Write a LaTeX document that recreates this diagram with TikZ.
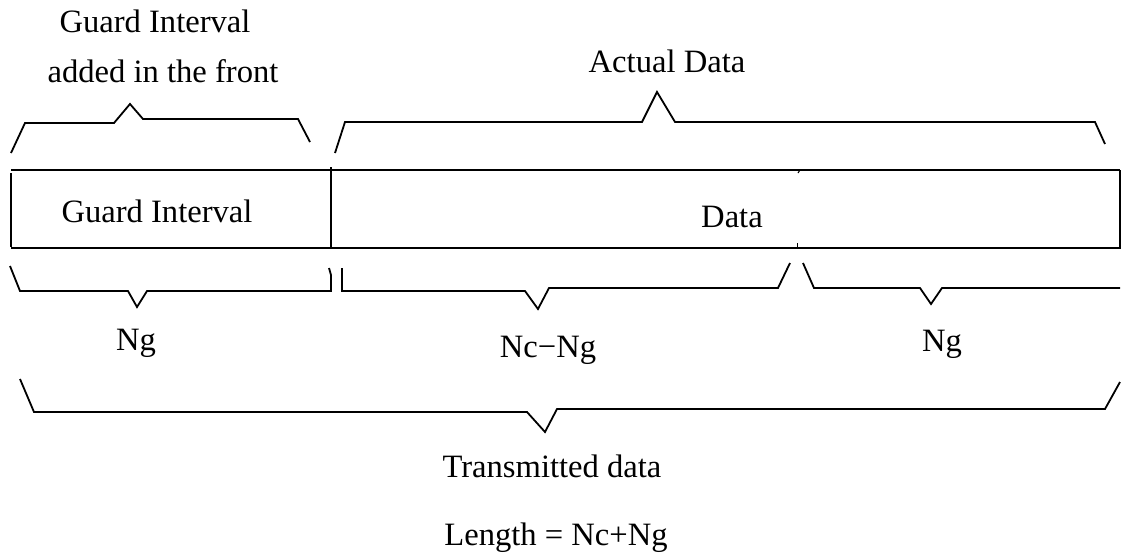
\documentclass[tikz,border=0pt]{standalone}
\usepackage{fontspec}
\setmainfont{Liberation Serif}
\begin{document}
\begin{tikzpicture}[x=0.5pt,y=-0.5pt,
  line/.style={line width=0.9pt,line join=miter},
  lbl/.style={anchor=base,inner sep=0pt,font=\fontsize{16.3}{19}\selectfont}]
\useasboundingbox (0,0) rectangle (1121,558);

% frame: guard interval followed by the data block
\draw[line] (11,170) -- (1120,170);
\draw[line] (11,248) -- (1120,248);
\draw[line] (11,173) -- (11,247);
\draw[line] (1120,170) -- (1120,249);
\draw[line] (331,167) -- (331,247);
\draw[line width=0.5pt] (800,170) -- (798,173);
\draw[line width=0.5pt] (797,243) -- (797,247);

% upper braces
\draw[line] (11,153) -- (25,123) -- (114,123) -- (130,104) -- (143,119) -- (298,119) -- (310,142);
\draw[line] (335,153) -- (345,122) -- (642,122) -- (657,92) -- (675,122) -- (1095,122) -- (1105,144);

% lower braces
\draw[line] (10,266) -- (20,291) -- (128,291) -- (137,307) -- (147,291) -- (331,291) -- (331,275) -- (329,268);
\draw[line] (342,268) -- (342,291) -- (525,291) -- (538,309) -- (549,288) -- (778,288) -- (790,263);
\draw[line] (803,263) -- (814,288) -- (920,288) -- (931,304) -- (942,288) -- (1120,288);

% overall brace
\draw[line] (20,379) -- (34,412) -- (527,412) -- (545,432) -- (557,409) -- (1105,409) -- (1120,382);

% labels
\node[lbl] (gi1) at (155,32) {Guard Interval};
\node[lbl] (gi2) at (163,82) {added in the front};
\node[lbl] (act) at (667,72) {Actual Data};
\node[lbl] (gbox) at (157,222) {Guard Interval};
\node[lbl] (dbox) at (732,227) {Data};
\node[lbl] (ng1) at (136,350) {Ng};
\node[lbl] (ncng) at (548,357) {Nc\textminus Ng};
\node[lbl] (ng2) at (942,351) {Ng};
\node[lbl] (tx) at (552,477) {Transmitted data};
\node[lbl] (len) at (556,545) {Length = Nc+Ng};
\end{tikzpicture}
\end{document}
